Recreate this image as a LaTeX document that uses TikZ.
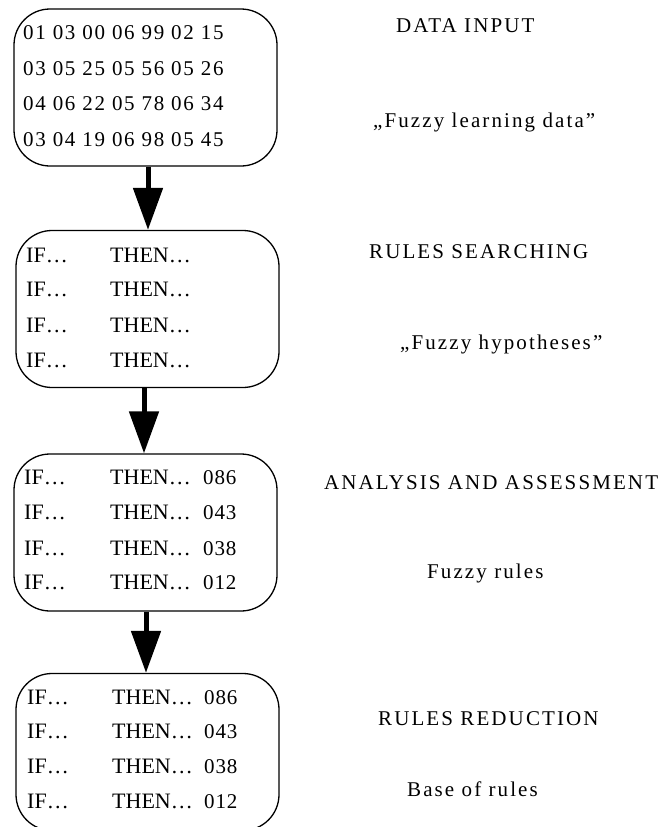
\documentclass[tikz,border=0pt]{standalone}
\usepackage{fontspec}
\setmainfont{Liberation Serif}
\newfontfamily\labelfont[LetterSpace=10]{Liberation Serif}
\newfontfamily\digitfont[LetterSpace=8]{Liberation Serif}
\newfontfamily\scorefont[LetterSpace=4]{Liberation Serif}
\usetikzlibrary{arrows.meta}

\begin{document}
\begin{tikzpicture}[x=1pt,y=-1pt,
  stage/.style={draw, line width=1.3pt, rounded corners=36pt,
    minimum width=263pt, minimum height=157pt, inner sep=0pt},
  flow/.style={line width=5pt, -{Triangle[length=42pt,width=29pt]}},
  lbl/.style={font=\labelfont\fontsize{21}{25}\selectfont, inner sep=0pt, anchor=base west},
  row/.style={font=\fontsize{22}{26}\selectfont, inner sep=0pt, anchor=base west},
  num/.style={font=\digitfont\fontsize{21}{25}\selectfont, inner sep=0pt, anchor=base west},
  score/.style={font=\scorefont\fontsize{21}{25}\selectfont, inner sep=0pt, anchor=base west},
]
\useasboundingbox (0,0) rectangle (658,827);

% the four processing stages
\node[stage] (b1) at (145.5,87.5) {};
\node[stage] (b2) at (147.5,309) {};
\node[stage] (b3) at (145.5,532.5) {};
\node[stage] (b4) at (147.5,752) {};

% flow between the stages
\draw[flow] (b1.south -| 148,0) -- (b2.north -| 148,0);
\draw[flow] (b2.south -| 144,0) -- (b3.north -| 144,0);
\draw[flow] (b3.south -| 146,0) -- (b4.north -| 146,0);

% learning data
\node[num] (d1) at (23,39)  {01 03 00 06 99 02 15};
\node[num] (d2) at (23,75)  {03 05 25 05 56 05 26};
\node[num] (d3) at (23,110) {04 06 22 05 78 06 34};
\node[num] (d4) at (23,146) {03 04 19 06 98 05 45};

% hypotheses
\foreach \y [count=\i] in {262,296,332,367} {
  \node[row] (h\i a) at (26,\y) {IF…};
  \node[row] (h\i b) at (110,\y) {THEN…};
}

% assessed rules
\foreach \y/\v [count=\i] in {484/086,519/043,555/038,589/012} {
  \node[row] (f\i a) at (24,\y) {IF…};
  \node[row] (f\i b) at (110,\y) {THEN…};
  \node[score] (f\i c) at (203,\y) {\v};
}

% reduced rule base
\foreach \y/\v [count=\i] in {704/086,738/043,773/038,808/012} {
  \node[row] (g\i a) at (27,\y) {IF…};
  \node[row] (g\i b) at (112,\y) {THEN…};
  \node[score] (g\i c) at (204,\y) {\v};
}

% stage captions
\node[lbl] (t1) at (396,32)  {DATA INPUT};
\node[lbl] (s1) at (373,127) {„Fuzzy learning data”};
\node[lbl] (t2) at (369,258) {RULES SEARCHING};
\node[lbl] (s2) at (400,349) {„Fuzzy hypotheses”};
\node[lbl] (t3) at (324,489) {ANALYSIS AND ASSESSMENT};
\node[lbl] (s3) at (427,578) {Fuzzy rules};
\node[lbl] (t4) at (378,725) {RULES REDUCTION};
\node[lbl] (s4) at (407,796) {Base of rules};
\end{tikzpicture}
\end{document}
